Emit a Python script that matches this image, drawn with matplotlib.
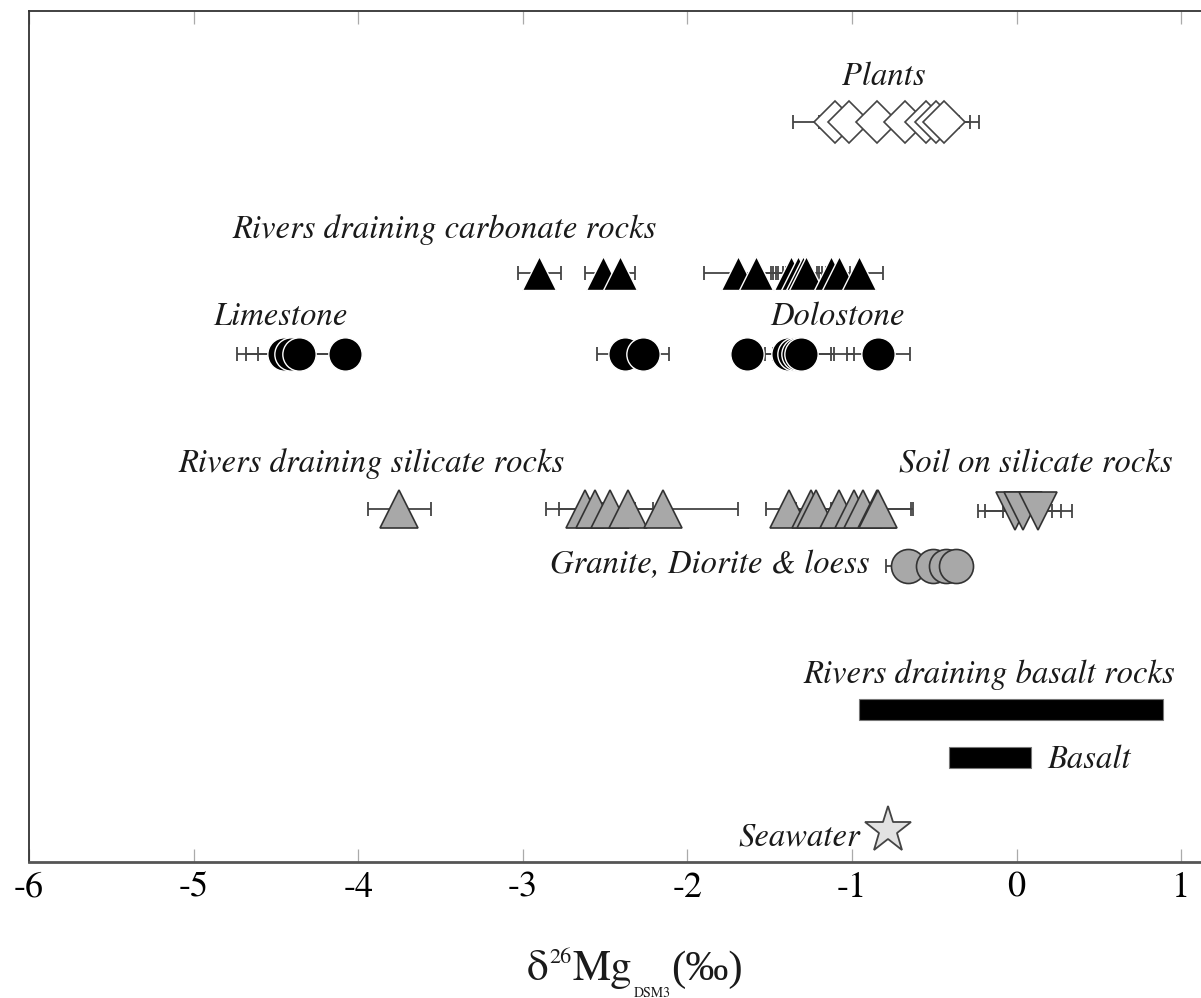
import matplotlib
matplotlib.use("Agg")
import matplotlib.pyplot as plt

# ---------------------------------------------------------------------------
# Data (delta26Mg, permil)
# ---------------------------------------------------------------------------
plants_x = [-1.10, -1.02, -0.85, -0.68, -0.55, -0.49, -0.44]
plants_err = [0.26, 0.18, 0.2, 0.2, 0.2, 0.21, 0.21]

carb_rivers_x = [-2.90, -2.51, -2.41, -1.69, -1.58, -1.37, -1.33, -1.30,
                 -1.28, -1.13, -1.08, -0.96]
carb_rivers_err = [0.13, 0.11, 0.09, 0.21, 0.12, 0.12, 0.12, 0.12,
                   0.12, 0.12, 0.12, 0.15]

limestone_x = [-4.45, -4.41, -4.36, -4.08, -2.38, -2.27]
limestone_err = [0.285, 0.27, 0.25, 0.08, 0.17, 0.16]

dolostone_x = [-1.64, -1.39, -1.35, -1.33, -1.31, -0.84]
dolostone_err = [0.08, 0.28, 0.13, 0.2, 0.32, 0.19]

sil_rivers_x = [-3.75, -2.62, -2.56, -2.47, -2.36, -2.15, -1.38, -1.25,
                -1.22, -1.08, -0.99, -0.93, -0.85, -0.84]
sil_rivers_err = [0.19, 0.24, 0.22, 0.15, 0.15, 0.46, 0.14, 0.12,
                  0.12, 0.12, 0.12, 0.12, 0.21, 0.21]

soil_x = [-0.01, 0.04, 0.13]
soil_err = [0.225, 0.23, 0.21]

granite_x = [-0.66, -0.51, -0.43, -0.37]
granite_err = [0.13, 0.1, 0.1, 0.1]

basalt_rivers_range = [-0.96, 0.89]
basalt_range = [-0.41, 0.09]

seawater_x = [-0.78]

# row levels (counted downward from the top of the panel)
ROW = {
    "plants": 122, "carb": 273, "lime": 354, "sil": 509, "soil": 511,
    "granite": 566, "basalt_rivers": 709, "basalt": 757, "seawater": 830,
}

W, H = 1201, 998
SERIF = "STIXGeneral"
plt.rcParams["axes.unicode_minus"] = False
plt.rcParams["mathtext.fontset"] = "stix"

fig = plt.figure(figsize=(W / 100, H / 100), dpi=100)
ax = fig.add_axes([29 / W, (H - 862) / H, (1214 - 29) / W, (862 - 11) / H])
ax.set_xlim(-6, 1.2)
ax.set_ylim(862, 11)

EBAR = dict(fmt="none", ecolor="#444444", elinewidth=1.3, capsize=4.8,
            capthick=1.3, zorder=2)


def group(xs, errs, row, **mk):
    ax.errorbar(xs, [ROW[row]] * len(xs), xerr=errs, **EBAR)
    ax.plot(xs, [ROW[row]] * len(xs), linestyle="none", zorder=3, **mk)


black_tri = dict(marker="^", markersize=25, markerfacecolor="black",
                 markeredgecolor="white", markeredgewidth=1.0)
black_dot = dict(marker="o", markersize=24, markerfacecolor="black",
                 markeredgecolor="white", markeredgewidth=1.0)
grey_tri = dict(marker="^", markersize=27, markerfacecolor="#a8a8a8",
                markeredgecolor="#333333", markeredgewidth=1.2)

group(plants_x, plants_err, "plants", marker="D", markersize=21.5,
      markerfacecolor="white", markeredgecolor="#444444", markeredgewidth=1.2)
group(carb_rivers_x, carb_rivers_err, "carb", **black_tri)
group(limestone_x, limestone_err, "lime", **black_dot)
group(dolostone_x, dolostone_err, "lime", **black_dot)
group(sil_rivers_x, sil_rivers_err, "sil", **grey_tri)
group(soil_x, soil_err, "soil", marker="v", markersize=27,
      markerfacecolor="#a8a8a8", markeredgecolor="#333333", markeredgewidth=1.2)
group(granite_x, granite_err, "granite", marker="o", markersize=24.5,
      markerfacecolor="#a8a8a8", markeredgecolor="#333333", markeredgewidth=1.2)

for key, (lo, hi) in (("basalt_rivers", basalt_rivers_range),
                      ("basalt", basalt_range)):
    ax.barh(ROW[key], hi - lo, left=lo, height=21, color="black",
            edgecolor="#777777", linewidth=0.8, zorder=3)

ax.plot(seawater_x, [ROW["seawater"]], linestyle="none", marker="*",
        markersize=35, markerfacecolor="#e2e2e2", markeredgecolor="#444444",
        markeredgewidth=1.3, zorder=3)

# group labels
LAB = dict(family=SERIF, style="italic", fontsize=23.5, color="#1a1a1a",
           va="baseline")
ax.text(-0.806, 85, "Plants", ha="center", **LAB)
ax.text(-3.473, 238, "Rivers draining carbonate rocks", ha="center", **LAB)
ax.text(-4.475, 325, "Limestone", ha="center", **LAB)
ax.text(-1.088, 325, "Dolostone", ha="center", **LAB)
ax.text(-3.919, 472, "Rivers draining silicate rocks", ha="center", **LAB)
ax.text(0.118, 472, "Soil on silicate rocks", ha="center", **LAB)
ax.text(-0.891, 573, "Granite, Diorite & loess", ha="right", **LAB)
ax.text(-0.168, 683, "Rivers draining basalt rocks", ha="center", **LAB)
ax.text(0.185, 768, "Basalt", ha="left", **LAB)
ax.text(-0.951, 845, "Seawater", ha="right", **LAB)

# axes styling
ax.set_yticks([])
ax.set_xticks([-6, -5, -4, -3, -2, -1, 0, 1])
ax.tick_params(axis="x", direction="in", length=9.5, width=0.9,
               color="#aaaaaa", top=True, pad=7, labelsize=26)
for lab in ax.get_xticklabels():
    lab.set_family(SERIF)
ax.spines["right"].set_visible(False)
ax.spines["left"].set_color("#333333")
ax.spines["top"].set_color("#333333")
ax.spines["left"].set_linewidth(1.3)
ax.spines["top"].set_linewidth(1.3)
ax.spines["bottom"].set_color("#555555")
ax.spines["bottom"].set_linewidth(2.0)

# x-axis label built piece by piece: delta^26 Mg_DSM3 (permil)
renderer = fig.canvas.get_renderer()
x_px = 527
for text, size, shift, fam in (("δ", 31, 0, SERIF), ("26", 16, -17, SERIF),
                               ("Mg", 31, 0, SERIF), ("DSM3", 10, 17, SERIF),
                               ("(‰)", 31, 0, "Liberation Serif")):
    t = fig.text(x_px / W, 1 - (980 + shift) / H, text, family=fam,
                 fontsize=size, va="baseline", ha="left", color="#1a1a1a")
    x_px = t.get_window_extent(renderer).x1 + 1

fig.savefig("out.png", dpi=100)
